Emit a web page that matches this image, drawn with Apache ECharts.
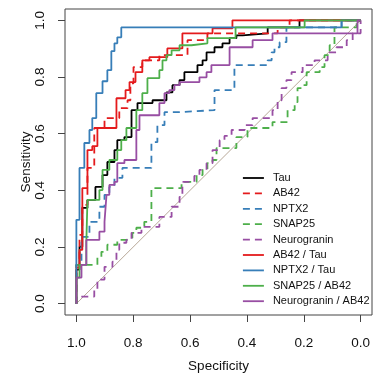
<!DOCTYPE html>
<html><head><meta charset="utf-8">
<script src="https://cdn.jsdelivr.net/npm/echarts@6/dist/echarts.min.js"></script>
<style>html,body{margin:0;padding:0;background:#fff}#c{width:380px;height:380px}</style>
</head><body><div id="c"></div>
<script>
// Axis ticks (specificity on x, reversed; sensitivity on y)
const tickValues = [0, 0.2, 0.4, 0.6, 0.8, 1.0];
const seriesNames = ['Tau', 'AB42', 'NPTX2', 'SNAP25', 'Neurogranin',
  'AB42 / Tau', 'NPTX2 / Tau', 'SNAP25 / AB42', 'Neurogranin / AB42'];

// ROC step corners: [specificity, sensitivity]
const tau = [[1,0],[0.989,0.120],[0.979,0.201],[0.961,0.338],[0.933,0.366],[0.908,0.412],[0.891,0.454],[0.866,0.500],[0.856,0.542],[0.831,0.577],[0.806,0.588],[0.785,0.683],[0.732,0.708],[0.683,0.718],[0.662,0.746],[0.637,0.771],[0.620,0.789],[0.574,0.817],[0.556,0.842],[0.542,0.859],[0.514,0.887],[0.486,0.905],[0.461,0.919],[0.437,0.937],[0.415,0.947],[0.327,0.954],[0.215,0.975],[0,1]];
const ab42 = [[1,0],[0.989,0.137],[0.979,0.243],[0.961,0.349],[0.937,0.479],[0.901,0.620],[0.849,0.655],[0.820,0.690],[0.810,0.718],[0.799,0.778],[0.768,0.835],[0.708,0.859],[0.609,0.877],[0.539,0.930],[0.292,0.954],[0.250,0.975],[0,1]];
const nptx2 = [[1,0],[0.982,0.137],[0.954,0.236],[0.919,0.289],[0.901,0.342],[0.884,0.384],[0.866,0.412],[0.838,0.444],[0.736,0.479],[0.715,0.570],[0.690,0.630],[0.637,0.676],[0.514,0.683],[0.444,0.754],[0.327,0.842],[0.313,0.859],[0.303,0.887],[0.285,0.905],[0.261,0.923],[0.067,0.975],[0,1]];
const snap25 = [[1,0],[0.926,0.137],[0.912,0.165],[0.891,0.183],[0.856,0.208],[0.824,0.225],[0.803,0.232],[0.789,0.250],[0.761,0.268],[0.736,0.289],[0.630,0.408],[0.577,0.430],[0.556,0.454],[0.539,0.472],[0.521,0.496],[0.507,0.507],[0.437,0.549],[0.398,0.588],[0.310,0.620],[0.257,0.641],[0.232,0.683],[0.222,0.711],[0.208,0.761],[0.190,0.771],[0.144,0.817],[0.127,0.835],[0.109,0.877],[0.092,0.912],[0.014,0.975],[0,1]];
const neurogranin = [[1,0],[0.937,0.025],[0.926,0.049],[0.901,0.085],[0.873,0.130],[0.859,0.148],[0.849,0.190],[0.824,0.215],[0.806,0.225],[0.771,0.250],[0.708,0.271],[0.665,0.306],[0.637,0.342],[0.627,0.377],[0.585,0.430],[0.567,0.451],[0.542,0.472],[0.521,0.496],[0.496,0.542],[0.479,0.577],[0.454,0.592],[0.408,0.613],[0.380,0.630],[0.310,0.655],[0.292,0.683],[0.278,0.718],[0.261,0.761],[0.243,0.789],[0.204,0.817],[0.162,0.842],[0.116,0.859],[0.085,0.887],[0.049,0.905],[0.028,0.930],[0,0.954],[0,1]];
const ab42Tau = [[1,0],[0.989,0.127],[0.979,0.190],[0.961,0.408],[0.944,0.542],[0.926,0.556],[0.859,0.620],[0.827,0.725],[0.813,0.754],[0.792,0.782],[0.768,0.817],[0.743,0.859],[0.680,0.870],[0.627,0.901],[0.521,0.954],[0.451,0.972],[0,1]];
const nptx2Tau = [[1,0],[0.989,0.296],[0.972,0.479],[0.954,0.567],[0.944,0.613],[0.930,0.655],[0.908,0.743],[0.891,0.785],[0.877,0.824],[0.866,0.891],[0.856,0.919],[0.842,0.940],[0.067,0.975],[0,1]];
const snap25Ab42 = [[1,0],[0.989,0.092],[0.965,0.137],[0.961,0.215],[0.919,0.366],[0.908,0.401],[0.884,0.472],[0.856,0.507],[0.842,0.542],[0.824,0.577],[0.789,0.620],[0.768,0.683],[0.750,0.743],[0.708,0.796],[0.697,0.824],[0.683,0.859],[0.665,0.877],[0.637,0.894],[0.595,0.912],[0.539,0.919],[0.440,0.937],[0.197,0.975],[0,1]];
const neuroAb42 = [[1,0],[0.982,0.092],[0.965,0.137],[0.919,0.225],[0.901,0.254],[0.894,0.289],[0.884,0.384],[0.866,0.419],[0.856,0.430],[0.831,0.496],[0.789,0.507],[0.778,0.613],[0.708,0.665],[0.690,0.708],[0.673,0.743],[0.655,0.754],[0.637,0.771],[0.567,0.782],[0.542,0.799],[0.525,0.817],[0.461,0.842],[0.380,0.905],[0.310,0.930],[0.011,0.954],[0,1]];
const diagonal = [[1,0],[0,1]];

const curveData = [tau, ab42, nptx2, snap25, neurogranin, ab42Tau, nptx2Tau, snap25Ab42, neuroAb42];
const curveColors = ['#000000','#e41a1c','#377eb8','#4daf4a','#984ea3','#e41a1c','#377eb8','#4daf4a','#984ea3'];
const curveDashed = [false, true, true, true, true, false, false, false, false];
const DASH = [7, 5];

const FONT = 'Liberation Sans, Arial, Helvetica, sans-serif';
const series = [{
  type: 'line', name: 'diag', data: diagonal, symbol: 'none', silent: true,
  lineStyle: { color: '#b8a898', width: 1 }, z: 1
}];
seriesNames.forEach((n, i) => {
  series.push({
    type: 'line', name: n, data: curveData[i], step: 'start', symbol: 'none',
    lineStyle: { color: curveColors[i], width: 1.8, type: curveDashed[i] ? DASH : 'solid' },
    itemStyle: { color: curveColors[i] }, z: 2
  });
});

const chart = echarts.init(document.getElementById('c'), null, { renderer: 'canvas' });
chart.setOption({
  animation: false,
  backgroundColor: '#fff',
  grid: { left: 65, width: 307, top: 9, height: 306, show: true, borderColor: '#444', borderWidth: 1, backgroundColor: 'transparent' },
  legend: {
    data: seriesNames.map((n, i) => ({
      name: n,
      lineStyle: { color: curveColors[i], width: 1.8, type: curveDashed[i] ? DASH : 'solid' },
      itemStyle: { opacity: 0 }
    })),
    orient: 'vertical', left: 242, top: 171, padding: 0,
    itemWidth: 21, itemHeight: 10, itemGap: 1.4,
    itemStyle: { opacity: 0 },
    textStyle: { fontFamily: FONT, fontSize: 11, color: '#111', lineHeight: 14, padding: [0, 0, 0, 4] }
  },
  xAxis: {
    type: 'value', inverse: true, min: -0.04, max: 1.04,
    name: 'Specificity', nameLocation: 'middle', nameGap: 44, nameMoveOverlap: false,
    nameTextStyle: { fontFamily: FONT, fontSize: 13.5, color: '#111' },
    splitLine: { show: false }, axisLine: { show: false, onZero: false },
    axisTick: { show: true, customValues: tickValues, length: 7, inside: false, lineStyle: { color: '#444' } },
    axisLabel: { customValues: tickValues, formatter: v => v.toFixed(1), margin: 21, fontFamily: FONT, fontSize: 13.5, color: '#111' }
  },
  yAxis: {
    type: 'value', min: -0.04, max: 1.04,
    name: 'Sensitivity', nameLocation: 'middle', nameGap: 32, nameMoveOverlap: false,
    nameTextStyle: { fontFamily: FONT, fontSize: 13.5, color: '#111' },
    splitLine: { show: false }, axisLine: { show: false, onZero: false },
    axisTick: { show: true, customValues: tickValues, length: 7, inside: false, lineStyle: { color: '#444' } },
    axisLabel: { customValues: tickValues, formatter: v => v.toFixed(1), rotate: 90, margin: 18, fontFamily: FONT, fontSize: 13.5, color: '#111' }
  },
  series: series
});
</script></body></html>
